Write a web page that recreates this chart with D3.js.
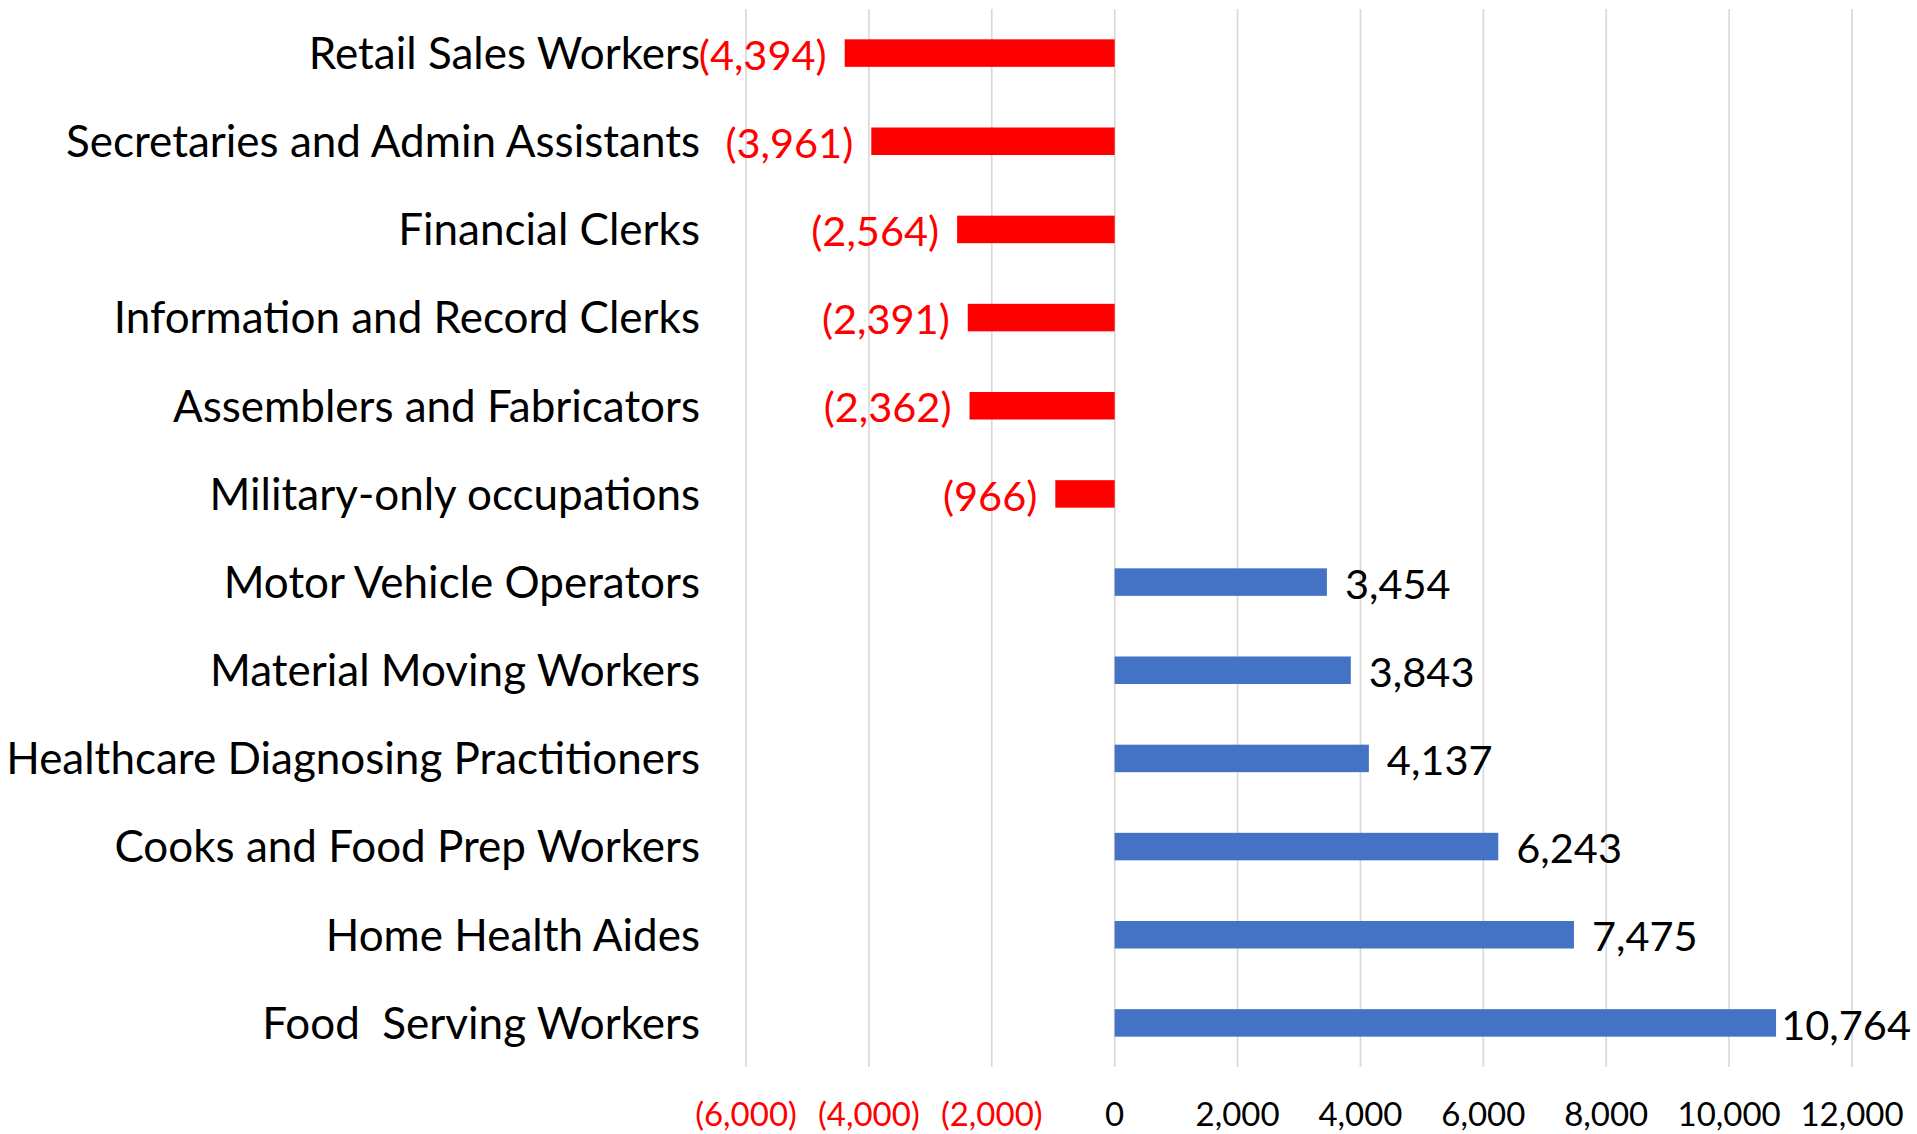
<!DOCTYPE html>
<html>
<head>
<meta charset="utf-8">
<script src="https://cdn.jsdelivr.net/npm/d3@7"></script>
<style>
  html, body { margin: 0; padding: 0; background: #fff; }
  #container { width: 1917px; height: 1134px; }
  text { font-family: Lato, "Open Sans", sans-serif; }
</style>
</head>
<body>
<div id="container"></div>
<script>
// occupations, top to bottom
var categories = [
  "Retail Sales Workers",
  "Secretaries and Admin Assistants",
  "Financial Clerks",
  "Information and Record Clerks",
  "Assemblers and Fabricators",
  "Military-only occupations",
  "Motor Vehicle Operators",
  "Material Moving Workers",
  "Healthcare Diagnosing Practitioners",
  "Cooks and Food Prep Workers",
  "Home Health Aides",
  "Food  Serving Workers"
];
var values = [-4394, -3961, -2564, -2391, -2362, -966, 3454, 3843, 4137, 6243, 7475, 10764];
var tickValues = [-6000, -4000, -2000, 0, 2000, 4000, 6000, 8000, 10000, 12000];

var width = 1917, height = 1134;
var plot = {left: 746, right: 1852, top: 9, bottom: 1067};

var svg = d3.select("#container").append("svg")
    .attr("width", width)
    .attr("height", height);

var x = d3.scaleLinear()
    .domain([-6000, 12000])
    .range([plot.left, plot.right]);

var y = d3.scaleBand()
    .domain(categories)
    .range([plot.top, plot.bottom])
    .paddingInner(0.688)
    .paddingOuter(0.344);

var fmt = d3.format(",");
function label(v) { return v < 0 ? "(" + fmt(-v) + ")" : fmt(v); }

// vertical gridlines
svg.append("g")
  .selectAll("line")
  .data(tickValues)
  .enter().append("line")
    .attr("x1", function(d) { return x(d); })
    .attr("x2", function(d) { return x(d); })
    .attr("y1", plot.top)
    .attr("y2", plot.bottom)
    .style("stroke", "#d9d9d9")
    .style("stroke-width", 1.7);

// value axis labels
svg.append("g")
  .selectAll("text")
  .data(tickValues)
  .enter().append("text")
    .attr("x", function(d) { return x(d); })
    .attr("y", 1114)
    .attr("dy", "0.36em")
    .attr("text-anchor", "middle")
    .style("font-size", "33px")
    .style("fill", function(d) { return d < 0 ? "#ff0000" : "#000"; })
    .text(label);

var rows = categories.map(function(c, i) { return {name: c, value: values[i]}; });

// bars
svg.append("g")
  .selectAll("rect")
  .data(rows)
  .enter().append("rect")
    .attr("x", function(d) { return x(Math.min(0, d.value)); })
    .attr("y", function(d) { return y(d.name); })
    .attr("width", function(d) { return Math.abs(x(d.value) - x(0)); })
    .attr("height", y.bandwidth())
    .style("fill", function(d) { return d.value < 0 ? "#ff0000" : "#4472c4"; });

// data labels at the bar ends
var valueLabels = svg.append("g")
  .selectAll("text")
  .data(rows)
  .enter().append("text")
    .attr("x", function(d) { return d.value < 0 ? x(d.value) - 18 : x(d.value) + 18; })
    .attr("y", function(d) { return y(d.name) + y.bandwidth() / 2; })
    .attr("dy", "0.4em")
    .attr("text-anchor", function(d) { return d.value < 0 ? "end" : "start"; })
    .style("font-size", "41.5px")
    .style("fill", function(d) { return d.value < 0 ? "#ff0000" : "#000"; })
    .text(function(d) { return label(d.value); });

// like excel, pull a label back in if it would run off the right edge
valueLabels.each(function(d) {
  if (d.value < 0) return;
  var w = this.getComputedTextLength();
  var x0 = +this.getAttribute("x");
  if (x0 + w > width - 6) {
    this.setAttribute("x", Math.max(x(d.value) + 3, width - 6 - w));
  }
});

// category labels
svg.append("g")
  .selectAll("text")
  .data(categories)
  .enter().append("text")
    .attr("x", 700)
    .attr("y", function(d) { return y(d) + y.bandwidth() / 2; })
    .attr("dy", "0.36em")
    .attr("text-anchor", "end")
    .style("font-size", "44px")
    .style("white-space", "pre")
    .style("fill", "#000")
    .text(function(d) { return d; });
</script>
</body>
</html>
